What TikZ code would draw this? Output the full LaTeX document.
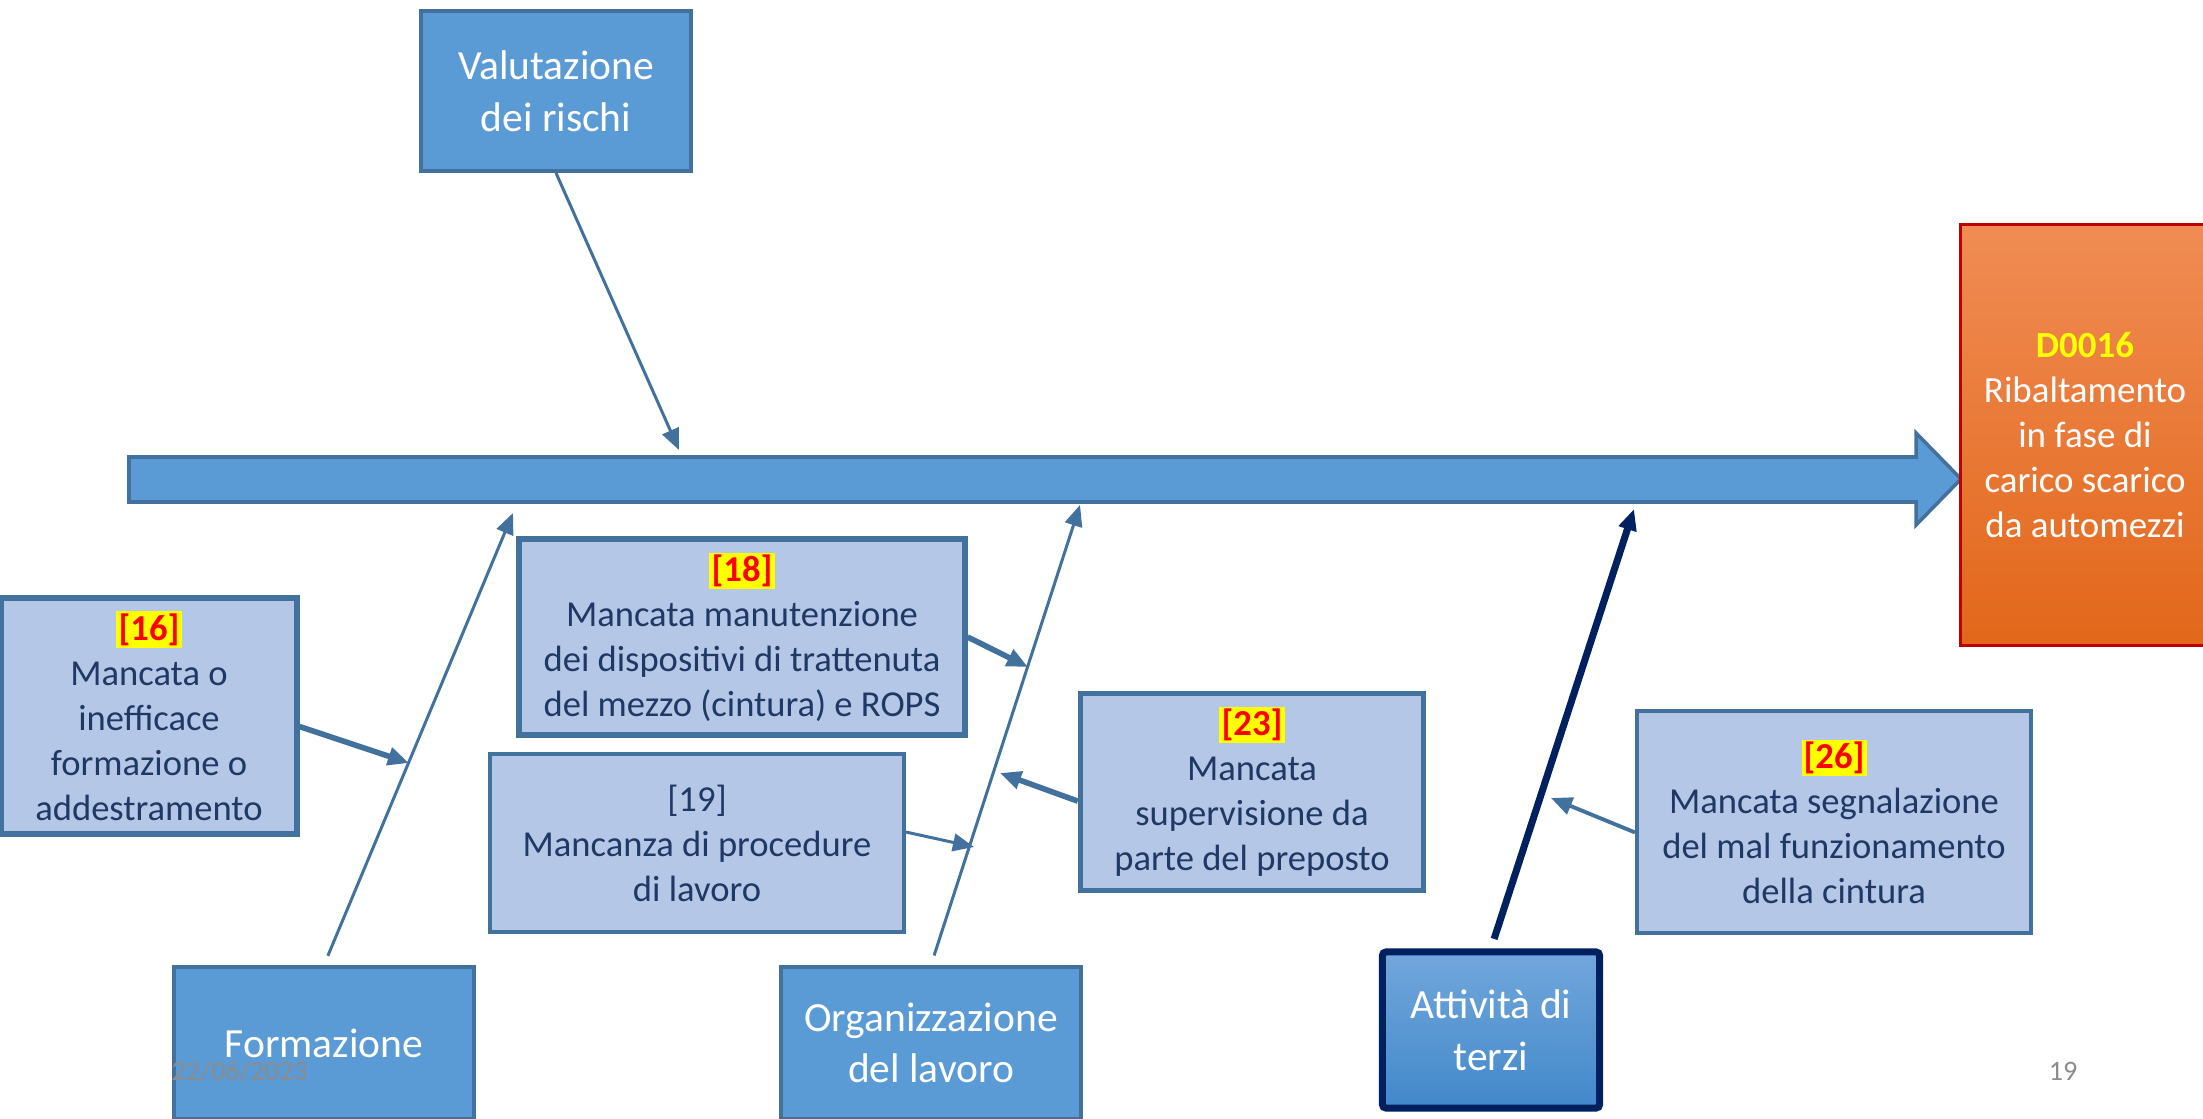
\documentclass[tikz,border=0pt]{standalone}
\usepackage{fontspec}
\setmainfont{Carlito}
\usetikzlibrary{arrows.meta}

\definecolor{boxblue}{HTML}{5B9BD5}
\definecolor{edgeblue}{HTML}{41719C}
\definecolor{paleblue}{HTML}{B4C7E7}
\definecolor{inkblue}{HTML}{1F3864}
\definecolor{navyline}{HTML}{002060}
\definecolor{hiyellow}{HTML}{FFFF00}
\definecolor{pagegray}{HTML}{8C8C8C}

\newcommand{\refnum}[1]{{\setlength{\fboxsep}{0.6pt}\colorbox{hiyellow}{\textcolor{red}{\textbf{[#1]}}}}}

\begin{document}
\begin{tikzpicture}[x=0.01cm,y=-0.01cm,
  cause/.style={draw=edgeblue,fill=boxblue,text=white,line width=1.1pt,align=center,
    inner sep=0pt,font=\fontsize{11.8}{14.7}\selectfont},
  factor/.style={draw=edgeblue,fill=paleblue,text=inkblue,line width=1.1pt,align=center,
    inner sep=0pt,font=\fontsize{10.4}{12.8}\selectfont},
  branch/.style={draw=edgeblue,line width=0.85pt,-{Triangle[length=6pt,width=5pt]}},
  feed/.style={draw=edgeblue,line width=1.6pt,-{Triangle[length=6pt,width=5pt]}}]
  \useasboundingbox (0,0) rectangle (2203,1119);

  % spine
  \draw[edgeblue,fill=boxblue,line width=1pt] (129,457) -- (1916,457) -- (1916,433) -- (1961,479)
    -- (1916,525) -- (1916,502) -- (129,502) -- cycle;

  % effect
  \node[draw=red!75!black,line width=1pt,top color={rgb,255:red,240;green,140;blue,84},
    bottom color={rgb,255:red,226;green,103;blue,26},text=white,align=center,inner sep=0pt,
    minimum width=2.49cm,minimum height=4.21cm,font=\fontsize{10.5}{12.8}\selectfont] (eff) at (2085,435)
    {\textcolor{hiyellow}{\textbf{D0016}}\\Ribaltamento\\in fase di\\carico scarico\\da automezzi};

  % main causes
  \node[cause,minimum width=2.7cm,minimum height=1.6cm] (val) at (556,91) {Valutazione\\dei rischi};
  \node[cause,minimum width=3cm,minimum height=1.52cm] (form) at (324,1043) {Formazione};
  \node[cause,minimum width=3cm,minimum height=1.52cm] (org) at (931,1043) {Organizzazione\\del lavoro};
  \node[cause,draw=navyline,line width=2pt,rounded corners=1pt,top color={rgb,255:red,114;green,167;blue,220},
    bottom color={rgb,255:red,66;green,136;blue,202},minimum width=2.17cm,minimum height=1.56cm] (att) at (1491,1030)
    {Attività di\\terzi};

  % sub causes
  \node[factor,line width=1.7pt,minimum width=2.95cm,minimum height=2.36cm] (b16) at (149,716)
    {\refnum{16}\\Mancata o\\inefficace\\formazione o\\addestramento};
  \node[factor,line width=1.7pt,minimum width=4.45cm,minimum height=1.95cm] (b18) at (742,637)
    {\refnum{18}\\Mancata manutenzione\\dei dispositivi di trattenuta\\del mezzo (cintura) e ROPS};
  \node[factor,minimum width=4.14cm,minimum height=1.78cm] (b19) at (697,843)
    {[19]\\Mancanza di procedure\\di lavoro};
  \node[factor,line width=1.5pt,minimum width=3.43cm,minimum height=1.97cm] (b23) at (1252,792)
    {\refnum{23}\\Mancata\\supervisione da\\parte del preposto};
  \node[factor,minimum width=3.94cm,minimum height=2.22cm] (b26) at (1834,822)
    {\refnum{26}\\Mancata segnalazione\\del mal funzionamento\\della cintura};

  % ends on the spine and on the bones
  \coordinate (valtip) at (679,450);
  \coordinate (formtip) at (513,513);
  \coordinate (orgtip) at (1080,505);
  \coordinate (atttip) at (1634,509);
  \coordinate (c16) at (409,763);
  \coordinate (c18) at (1028,667);
  \coordinate (c19) at (974,847);
  \coordinate (c23) at (1000,773);
  \coordinate (c26) at (1551,798);

  \draw[branch] (val.south) -- (valtip);
  \draw[branch,shorten <=0.1cm] (form.north) -- (formtip);
  \draw[branch,shorten <=0.1cm] (org.north) -- (orgtip);
  \draw[branch,draw=navyline,line width=2pt,shorten <=0.1cm] (att.north) -- (atttip);

  \draw[feed] (b16.-4) -- (c16);
  \draw[feed] (b18.east) -- (c18);
  \draw[branch] (b19.3) -- (c19);
  \draw[feed] (b23.183) -- (c23);
  \draw[branch,line width=1.1pt] (b26.183) -- (c26);

  % footer
  \node[anchor=west,text=pagegray,inner sep=0pt,font=\fontsize{8}{9}\selectfont] (date) at (171,1071) {22/06/2023};
  \node[text=pagegray,inner sep=0pt,font=\fontsize{8}{9}\selectfont] (page) at (2063,1071) {19};
\end{tikzpicture}
\end{document}
